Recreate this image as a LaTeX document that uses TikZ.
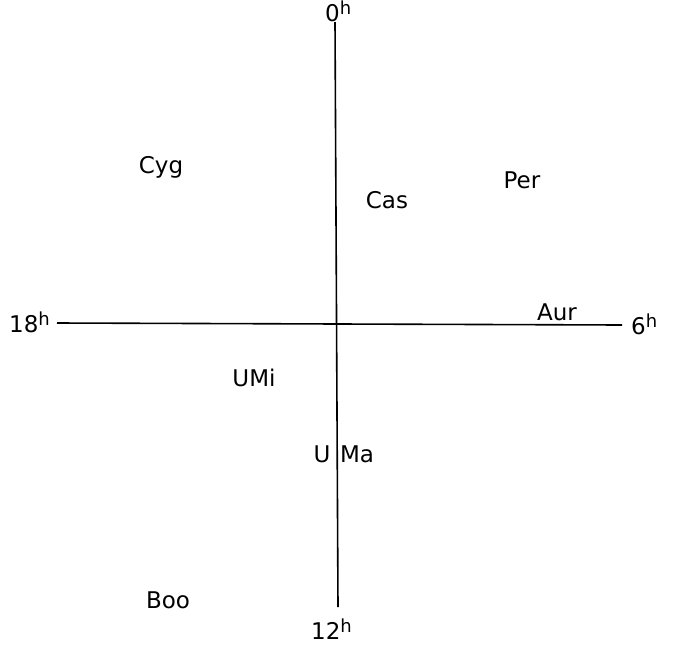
\documentclass[tikz,border=0pt]{standalone}
\usepackage{fontspec}
\setmainfont{DejaVu Sans}
\newcommand{\hr}{\raisebox{6.5pt}{\fontsize{18}{18}\selectfont h}}
\begin{document}
\begin{tikzpicture}[x=1pt,y=-1pt,
  lbl/.style={font=\fontsize{23}{25}\selectfont, inner sep=0pt, anchor=base},
  hlbl/.style={font=\fontsize{23}{25}\selectfont, inner sep=0pt, anchor=base west},
  axis/.style={line width=1.6pt}]
\useasboundingbox (0,0) rectangle (688,646);
\coordinate (top) at (335,22);
\coordinate (bot) at (338,607);
\coordinate (lft) at (57,323);
\coordinate (rgt) at (622,325);
\draw[axis] (top) -- (bot);
\draw[axis] (lft) -- (rgt);
\node[hlbl] (h0) at (325,21) {0\hr};
\node[hlbl] (h18) at (9,332) {18\hr};
\node[hlbl] (h6) at (631,334) {6\hr};
\node[hlbl] (h12) at (311,639) {12\hr};
\node[lbl] (cyg) at (161,173) {Cyg};
\node[lbl] (cas) at (387,208) {Cas};
\node[lbl] (per) at (522,188) {Per};
\node[lbl] (aur) at (557,320) {Aur};
\node[lbl] (umi) at (254,386) {UMi};
\node[lbl] (u) at (322,462) {U};
\node[lbl] (ma) at (357,462) {Ma};
\node[lbl] (boo) at (168,608) {Boo};
\end{tikzpicture}
\end{document}
